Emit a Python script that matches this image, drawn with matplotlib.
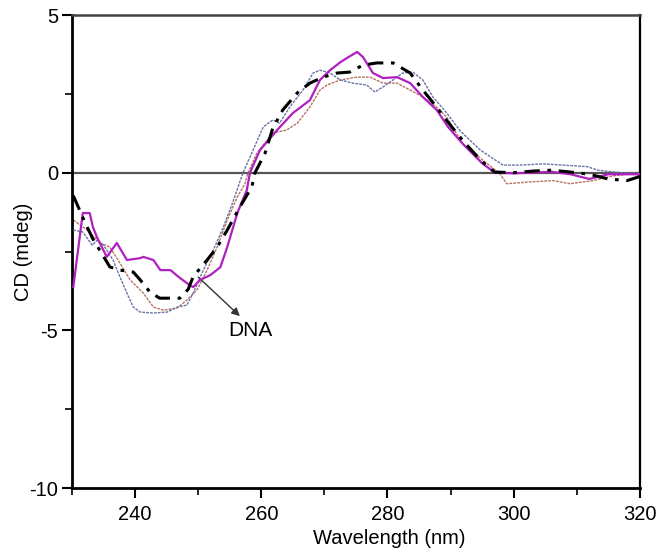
import numpy as np
import matplotlib.pyplot as plt

plt.rcParams['font.family'] = ['Liberation Sans', 'DejaVu Sans']
plt.rcParams['axes.unicode_minus'] = False

# DNA alone (black dash-dot)
wl_dna = [230.2, 232.1, 233.3, 236.0, 237.6, 239.7, 240.8, 242.4, 243.9, 247.1, 248.4, 249.2,
          251.4, 253.0, 254.6, 256.6, 258.5, 259.0, 260.6, 261.8, 263.4, 265.7, 267.7, 269.8,
          272.0, 274.0, 276.1, 278.3, 280.9, 283.6, 285.6, 287.8, 289.6, 292.0, 295.0, 297.0,
          300.0, 303.0, 306.0, 309.0, 312.0, 315.0, 318.0, 320.0]
cd_dna = [-0.73, -1.6, -2.1, -2.99, -3.09, -3.15, -3.4, -3.8, -3.98, -3.98, -3.7, -3.3,
          -2.77, -2.36, -1.82, -1.09, -0.45, 0.0, 0.62, 1.4, 1.99, 2.53, 2.84, 3.03,
          3.16, 3.19, 3.41, 3.48, 3.48, 3.16, 2.62, 2.08, 1.6, 1.0, 0.35, 0.02,
          0.0, 0.05, 0.08, 0.02, -0.05, -0.2, -0.25, -0.12]

# magenta solid
wl_mag = [230.2, 231.7, 232.8, 233.3, 234.0, 235.5, 237.1, 238.7, 240.8, 241.3, 242.9, 244.0,
          245.6, 247.1, 248.2, 249.2, 250.3, 251.9, 253.5, 254.6, 256.2, 257.7, 258.2, 259.8,
          262.5, 265.0, 267.7, 269.3, 270.9, 272.5, 273.6, 275.2, 276.1, 277.7, 279.3, 281.5,
          283.6, 285.6, 287.8, 289.6, 292.0, 295.0, 297.0, 300.0, 303.0, 306.0, 309.0, 312.0,
          315.0, 318.0, 320.0]
cd_mag = [-3.63, -1.28, -1.28, -1.72, -2.07, -2.67, -2.23, -2.77, -2.71, -2.67, -2.77, -3.09,
          -3.09, -3.34, -3.5, -3.63, -3.4, -3.25, -3.0, -2.36, -1.28, -0.55, 0.0, 0.72,
          1.35, 1.89, 2.3, 2.94, 3.25, 3.5, 3.64, 3.83, 3.67, 3.16, 3.0, 3.03,
          2.84, 2.4, 1.99, 1.45, 0.9, 0.3, 0.0, -0.02, 0.0, 0.03, -0.05, -0.2,
          -0.05, -0.05, -0.05]

# blue-grey dotted
wl_blue = [230.2, 231.7, 233.2, 234.0, 235.0, 236.5, 237.6, 238.7, 239.7, 240.8, 242.9, 245.1,
           246.7, 248.2, 249.2, 250.8, 252.4, 254.0, 255.6, 257.1, 258.7, 260.3, 261.8, 262.9,
           264.5, 266.6, 268.2, 269.3, 270.9, 272.5, 274.5, 276.7, 278.0, 279.3, 280.9, 282.4,
           284.0, 285.6, 287.2, 289.4, 291.5, 294.7, 298.3, 301.0, 304.7, 307.9, 311.7, 313.3,
           316.9, 320.0]
cd_blue = [-1.82, -1.88, -2.3, -2.14, -2.3, -2.77, -3.31, -3.82, -4.26, -4.42, -4.45, -4.42,
           -4.26, -4.2, -3.82, -3.09, -2.45, -1.72, -0.87, 0.0, 0.72, 1.45, 1.67, 1.57,
           2.08, 2.62, 3.16, 3.25, 3.16, 2.94, 2.84, 2.78, 2.56, 2.72, 2.94, 3.16,
           3.19, 2.94, 2.4, 1.89, 1.33, 0.72, 0.24, 0.24, 0.28, 0.24, 0.19, 0.08,
           0.0, -0.03]

# brown dotted
wl_brown = [230.2, 232.4, 234.5, 236.0, 237.6, 239.2, 241.3, 242.9, 244.5, 246.7, 248.2, 249.8,
            251.4, 253.0, 254.6, 256.2, 257.4, 257.9, 259.3, 261.8, 264.0, 265.7, 267.7, 269.3,
            270.4, 272.5, 275.2, 277.2, 279.3, 281.5, 283.6, 285.6, 287.8, 289.4, 291.9, 295.7,
            297.8, 298.9, 302.1, 306.2, 308.9, 312.6, 315.8, 318.9, 320.0]
cd_brown = [-1.5, -1.82, -2.23, -2.36, -2.87, -3.4, -3.82, -4.26, -4.36, -4.29, -4.04, -3.72,
            -3.09, -2.36, -1.5, -0.77, -0.35, 0.0, 0.62, 1.26, 1.35, 1.57, 2.08, 2.62,
            2.78, 2.94, 3.03, 3.03, 2.84, 2.84, 2.62, 2.4, 2.08, 1.76, 0.92, 0.3,
            -0.03, -0.35, -0.3, -0.25, -0.35, -0.25, -0.1, -0.03, -0.02]

fig = plt.figure(figsize=(6.61, 5.5), dpi=100)
ax = fig.add_axes([0.109, 0.1127, 0.859, 0.86])

ax.axhline(0, color='#555555', lw=1.6, zorder=1)

ax.plot(wl_brown, cd_brown, color='#b5735f', lw=1.0, ls=(0, (2, 0.8)), zorder=2)
ax.plot(wl_blue, cd_blue, color='#6a72a8', lw=1.0, ls=(0, (2, 0.8)), zorder=3)
ax.plot(wl_mag, cd_mag, color='#b01fc0', lw=1.6, zorder=4)
ax.plot(wl_dna, cd_dna, color='black', lw=2.2, ls=(0, (5, 2.5, 1.2, 2.5)), zorder=5)

ax.annotate('', xy=(256.6, -4.55), xytext=(250.0, -3.31),
            arrowprops=dict(arrowstyle='-|>', color='#333333', lw=1.0,
                            mutation_scale=12, shrinkA=0, shrinkB=0))
ax.text(258.2, -5.0, 'DNA', fontsize=15, ha='center', va='center')

ax.set_xlim(230, 320)
ax.set_ylim(-10, 5)
ax.set_xticks([240, 260, 280, 300, 320])
ax.set_xticks(np.arange(230, 321, 10), minor=True)
ax.set_yticks([-10, -5, 0, 5])
ax.set_yticks([-7.5, -2.5, 2.5], minor=True)

ax.tick_params(axis='both', which='major', direction='out', length=7, width=1.5,
               labelsize=14.5)
ax.tick_params(axis='x', which='major', pad=5)
ax.tick_params(axis='y', which='major', pad=3)
ax.tick_params(axis='both', which='minor', direction='out', length=5, width=1.2)
ax.tick_params(top=False, right=False, which='both')

for side in ['left', 'bottom']:
    ax.spines[side].set_linewidth(2.0)
    ax.spines[side].set_color('black')
ax.spines['right'].set_linewidth(1.6)
ax.spines['right'].set_color('black')
ax.spines['top'].set_linewidth(1.8)
ax.spines['top'].set_color('#444444')

ax.set_xlabel('Wavelength (nm)', fontsize=14.5)
ax.xaxis.set_label_coords(0.558, -0.087)
ax.set_ylabel('CD (mdeg)', fontsize=14.5)
ax.yaxis.set_label_coords(-0.069, 0.5)

fig.savefig('out.png', dpi=100)
